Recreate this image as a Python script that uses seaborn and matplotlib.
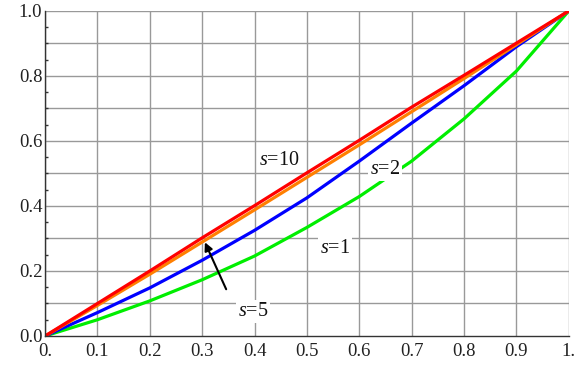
import numpy as np
import pandas as pd
import matplotlib
matplotlib.use("Agg")
import matplotlib.pyplot as plt
import seaborn as sns

x_vals = [0.0, 0.1, 0.2, 0.3, 0.4, 0.5, 0.6, 0.7, 0.8, 0.9, 1.0]
s1 = [0.0, 0.05, 0.108, 0.173, 0.246, 0.334, 0.429, 0.538, 0.668, 0.815, 1.0]
s2 = [0.0, 0.072, 0.148, 0.233, 0.325, 0.425, 0.538, 0.655, 0.77, 0.89, 1.0]
s5 = [0.0, 0.094, 0.19, 0.289, 0.388, 0.488, 0.588, 0.69, 0.792, 0.896, 1.0]
s10 = [0.0, 0.1, 0.2, 0.302, 0.401, 0.502, 0.602, 0.704, 0.802, 0.901, 1.0]
series_names = ["s=1", "s=2", "s=5", "s=10"]
series_colors = ["#00ee00", "#0000ff", "#ff7f00", "#ff0000"]
x_ticks = [0.0, 0.1, 0.2, 0.3, 0.4, 0.5, 0.6, 0.7, 0.8, 0.9, 1.0]
x_tick_labels = ["0.", "0.1", "0.2", "0.3", "0.4", "0.5", "0.6", "0.7", "0.8", "0.9", "1."]
y_ticks = [0.0, 0.2, 0.4, 0.6, 0.8, 1.0]
y_tick_labels = ["0.0", "0.2", "0.4", "0.6", "0.8", "1.0"]

frames = []
for name, vals in zip(series_names, [s1, s2, s5, s10]):
    frames.append(pd.DataFrame({"x": x_vals, "y": vals, "s": name}))
df = pd.concat(frames, ignore_index=True)

sns.set_theme(style="white")
serif = ["Liberation Serif", "DejaVu Serif"]
plt.rcParams["font.family"] = serif
plt.rcParams["mathtext.fontset"] = "custom"
plt.rcParams["mathtext.it"] = "Liberation Serif:italic"
plt.rcParams["mathtext.rm"] = "Liberation Serif"

fig = plt.figure(figsize=(5.78, 3.65), dpi=100)
ax = fig.add_axes([0.078, 0.0795, 0.906, 0.8905])

sns.lineplot(data=df, x="x", y="y", hue="s", palette=dict(zip(series_names, series_colors)),
             hue_order=series_names, linewidth=2.3, legend=False, ax=ax, sort=True)

ax.set_xlim(0, 1)
ax.set_ylim(0, 1)
ax.set_xticks(x_ticks)
ax.set_xticklabels(x_tick_labels, fontfamily=serif)
ax.set_yticks(y_ticks)
ax.set_yticklabels(y_tick_labels, fontfamily=serif)
ax.set_yticks(np.arange(0, 1.0001, 0.05), minor=True)
ax.set_xlabel("")
ax.set_ylabel("")
for v in x_ticks:
    ax.axvline(v, color="#999999", lw=1.0, zorder=0)
for v in np.arange(0.1, 1.0001, 0.1):
    ax.axhline(v, color="#999999", lw=1.0, zorder=0)
for sp in ["top", "right"]:
    ax.spines[sp].set_visible(False)
for sp in ["left", "bottom"]:
    ax.spines[sp].set_color("#333333")
    ax.spines[sp].set_linewidth(1.0)
ax.tick_params(axis="both", which="major", labelsize=13.5, length=4, direction="in",
               color="#333333", pad=2)
ax.tick_params(axis="y", which="minor", length=2, direction="in", color="#333333", left=True)
ax.tick_params(axis="x", which="major", direction="out", length=3)
for lab in ax.get_xticklabels() + ax.get_yticklabels():
    lab.set_color("#222222")

box = dict(facecolor="white", edgecolor="none", pad=1.5)
tk = dict(fontsize=14.5, ha="center", va="center", color="#111111", fontfamily=serif)
ax.text(0.448, 0.54, r"$s$=10", bbox=box, **tk)
ax.text(0.649, 0.513, r"$s$=2", bbox=box, **tk)
ax.text(0.553, 0.27, r"$s$=1", bbox=box, **tk)
ax.text(0.397, 0.075, r"$s$=5", bbox=box, **tk)
ax.annotate("", xy=(0.303, 0.296), xytext=(0.348, 0.136),
            arrowprops=dict(arrowstyle="-|>", color="black", lw=1.5, mutation_scale=12))

fig.savefig("out.png", dpi=100)
